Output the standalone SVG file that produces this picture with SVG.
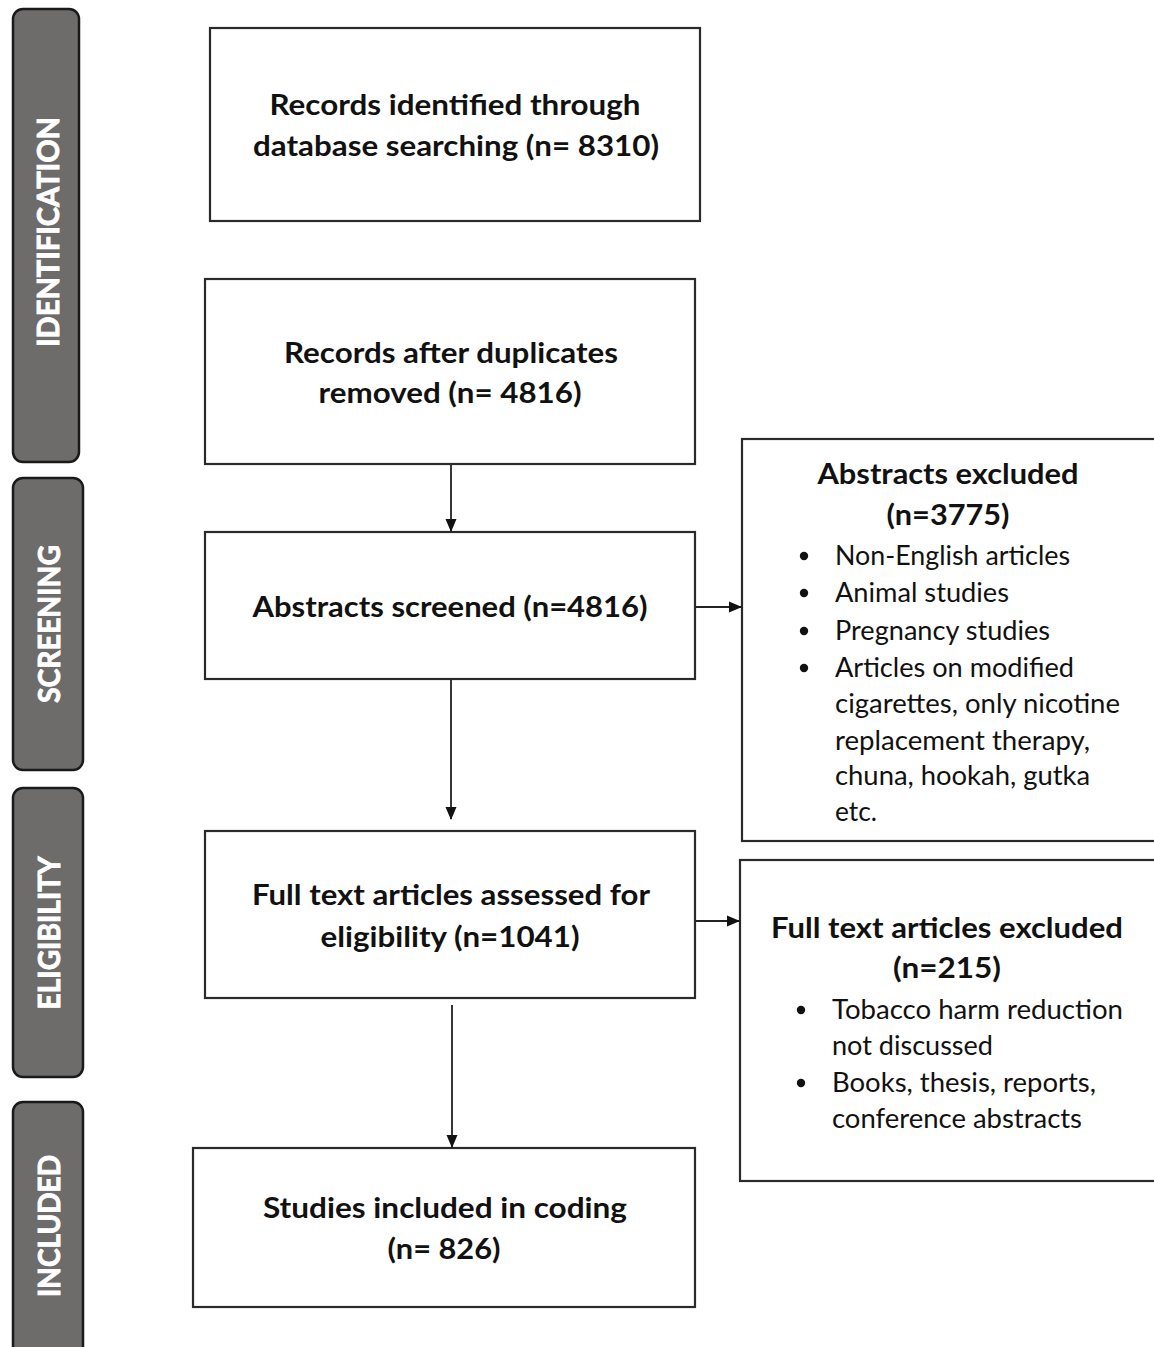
<svg xmlns="http://www.w3.org/2000/svg" width="1154" height="1347" viewBox="0 0 1154 1347">
<style>
.phase{fill:#6e6b6b;stroke:#1a1a1a;stroke-width:2.5}
.ptxt{font-family:Lato,"Liberation Sans",sans-serif;font-weight:bold;font-size:31px;fill:#ffffff;stroke:#ffffff;stroke-width:0.9;text-anchor:middle}
.box{fill:#ffffff;stroke:#2a2a2a;stroke-width:2.2}
.b{font-family:Lato,"Liberation Sans",sans-serif;font-weight:bold;font-size:28px;fill:#111111;text-anchor:middle}
.r{font-family:Lato,"Liberation Sans",sans-serif;font-size:26px;fill:#111111}
.dot{fill:#111111}
.conn{stroke:#222222;stroke-width:1.8;fill:none}
</style>
<defs>
<marker id="ah" markerWidth="13" markerHeight="13" refX="12" refY="6.5" orient="auto" markerUnits="userSpaceOnUse">
<path d="M0,1 L13,6.5 L0,12 Z" fill="#111111"/>
</marker>
</defs>
<rect width="1154" height="1347" fill="#ffffff"/>

<g id="phase-identification">
<rect class="phase" x="13" y="9" width="66" height="453" rx="10"/>
<text class="ptxt" transform="translate(59,232) rotate(-90)" textLength="230" lengthAdjust="spacingAndGlyphs">IDENTIFICATION</text>
</g>
<g id="phase-screening">
<rect class="phase" x="13" y="478" width="70" height="292" rx="10"/>
<text class="ptxt" transform="translate(60,624) rotate(-90)" textLength="158" lengthAdjust="spacingAndGlyphs">SCREENING</text>
</g>
<g id="phase-eligibility">
<rect class="phase" x="13" y="788" width="70" height="289" rx="10"/>
<text class="ptxt" transform="translate(60,933) rotate(-90)" textLength="153" lengthAdjust="spacingAndGlyphs">ELIGIBILITY</text>
</g>
<g id="phase-included">
<rect class="phase" x="13" y="1102" width="70" height="260" rx="10"/>
<text class="ptxt" transform="translate(60,1226) rotate(-90)" textLength="142" lengthAdjust="spacingAndGlyphs">INCLUDED</text>
</g>

<g id="node-identified">
<rect class="box" x="210" y="28" width="490" height="193"/>
<text class="b" x="455" y="115" textLength="371" lengthAdjust="spacingAndGlyphs">Records identified through</text>
<text class="b" x="456" y="156" textLength="406" lengthAdjust="spacingAndGlyphs">database searching (n= 8310)</text>
</g>
<g id="node-duplicates">
<rect class="box" x="205" y="279" width="490" height="185"/>
<text class="b" x="451" y="363" textLength="334" lengthAdjust="spacingAndGlyphs">Records after duplicates</text>
<text class="b" x="450" y="403" textLength="263" lengthAdjust="spacingAndGlyphs">removed (n= 4816)</text>
</g>
<g id="node-screened">
<rect class="box" x="205" y="532" width="490" height="147"/>
<text class="b" x="450" y="617" textLength="395" lengthAdjust="spacingAndGlyphs">Abstracts screened (n=4816)</text>
</g>
<g id="node-fulltext">
<rect class="box" x="205" y="831" width="490" height="167"/>
<text class="b" x="451" y="905" textLength="398" lengthAdjust="spacingAndGlyphs">Full text articles assessed for</text>
<text class="b" x="450" y="947" textLength="259" lengthAdjust="spacingAndGlyphs">eligibility (n=1041)</text>
</g>
<g id="node-included">
<rect class="box" x="193" y="1148" width="502" height="159"/>
<text class="b" x="445" y="1218" textLength="364" lengthAdjust="spacingAndGlyphs">Studies included in coding</text>
<text class="b" x="444" y="1259" textLength="113" lengthAdjust="spacingAndGlyphs">(n= 826)</text>
</g>
<g id="node-abstracts-excluded">
<rect class="box" x="742" y="439" width="420" height="402"/>
<text class="b" x="948" y="484" textLength="261" lengthAdjust="spacingAndGlyphs">Abstracts excluded</text>
<text class="b" x="948" y="525" textLength="123" lengthAdjust="spacingAndGlyphs">(n=3775)</text>
<circle class="dot" cx="804" cy="556" r="4.2"/>
<circle class="dot" cx="804" cy="593" r="4.2"/>
<circle class="dot" cx="804" cy="631" r="4.2"/>
<circle class="dot" cx="804" cy="668" r="4.2"/>
<text class="r" x="835" y="565" textLength="235" lengthAdjust="spacingAndGlyphs">Non-English articles</text>
<text class="r" x="835" y="602" textLength="174" lengthAdjust="spacingAndGlyphs">Animal studies</text>
<text class="r" x="835" y="640" textLength="215" lengthAdjust="spacingAndGlyphs">Pregnancy studies</text>
<text class="r" x="835" y="677" textLength="239" lengthAdjust="spacingAndGlyphs">Articles on modified</text>
<text class="r" x="835" y="713" textLength="285" lengthAdjust="spacingAndGlyphs">cigarettes, only nicotine</text>
<text class="r" x="835" y="750" textLength="255" lengthAdjust="spacingAndGlyphs">replacement therapy,</text>
<text class="r" x="835" y="785" textLength="255" lengthAdjust="spacingAndGlyphs">chuna, hookah, gutka</text>
<text class="r" x="835" y="821" textLength="42" lengthAdjust="spacingAndGlyphs">etc.</text>
</g>
<g id="node-fulltext-excluded">
<rect class="box" x="740" y="860" width="422" height="321"/>
<text class="b" x="947" y="938" textLength="352" lengthAdjust="spacingAndGlyphs">Full text articles excluded</text>
<text class="b" x="947" y="978" textLength="108" lengthAdjust="spacingAndGlyphs">(n=215)</text>
<circle class="dot" cx="801" cy="1010" r="4.2"/>
<circle class="dot" cx="801" cy="1083" r="4.2"/>
<text class="r" x="832" y="1019" textLength="291" lengthAdjust="spacingAndGlyphs">Tobacco harm reduction</text>
<text class="r" x="832" y="1055" textLength="161" lengthAdjust="spacingAndGlyphs">not discussed</text>
<text class="r" x="832" y="1092" textLength="264" lengthAdjust="spacingAndGlyphs">Books, thesis, reports,</text>
<text class="r" x="832" y="1128" textLength="250" lengthAdjust="spacingAndGlyphs">conference abstracts</text>
</g>

<g id="connectors">
<line class="conn" x1="451" y1="465" x2="451" y2="531" marker-end="url(#ah)"/>
<line class="conn" x1="451" y1="680" x2="451" y2="819" marker-end="url(#ah)"/>
<line class="conn" x1="452" y1="1005" x2="452" y2="1147" marker-end="url(#ah)"/>
<line class="conn" x1="696" y1="607" x2="741" y2="607" marker-end="url(#ah)"/>
<line class="conn" x1="696" y1="921" x2="739" y2="921" marker-end="url(#ah)"/>
</g>
</svg>
